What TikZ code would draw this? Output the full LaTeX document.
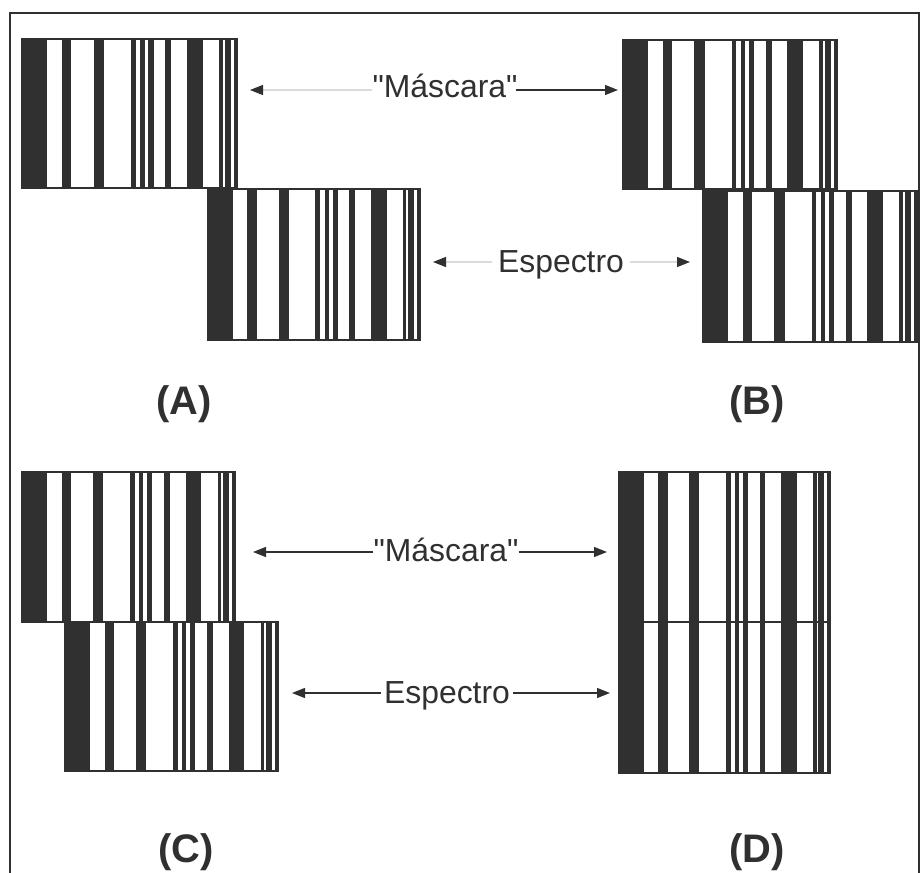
\documentclass[tikz,border=0pt]{standalone}
\usepackage{fontspec}
\newfontfamily\plainsans{Liberation Sans}
\usetikzlibrary{arrows.meta}
\definecolor{ink}{HTML}{303030}
\definecolor{faint}{HTML}{DADADA}
\tikzset{
  blockline/.style={draw=ink, line width=1.3bp},
  framel/.style={draw=ink, line width=2.2bp},
  lbl/.style={text=ink, font=\plainsans\fontsize{32}{36}\selectfont, inner sep=0pt, anchor=base},
  panel/.style={text=ink, font=\plainsans\bfseries\fontsize{40}{46}\selectfont, inner sep=0pt, anchor=base},
  arr/.style={draw=ink, line width=1.3bp, -{Triangle[length=13bp,width=10bp,color=ink]}},
  farr/.style={draw=faint, line width=1.3bp, -{Triangle[length=13bp,width=10bp,color=ink]}}
}
\newcommand{\bcblock}[4]{% x0 y0 x1 y1
  \foreach \a/\b in {0/0.118,0.186/0.230,0.334/0.381,0.507/0.530,0.550/0.570,0.588/0.612,0.666/0.694,0.768/0.842,0.918/0.936,0.945/0.973,0.988/1}{
    \fill[ink] ({#1+\a*(#3-#1)},#2) rectangle ({#1+\b*(#3-#1)},#4);}
  \draw[blockline] (#1,#2) rectangle (#3,#4);
}
\begin{document}
\begin{tikzpicture}[x=1bp,y=-1bp]
\useasboundingbox[fill=white] (0,0) rectangle (921,873);
% frame
\draw[framel] (10,873) -- (10,13) -- (919,13) -- (919,873);
% barcode blocks
\bcblock{22}{39}{237}{188}
\bcblock{208}{189}{420}{340}
\bcblock{623}{40}{837}{189}
\bcblock{703}{191}{917}{342}
\bcblock{22}{472}{235}{622}
\bcblock{65}{622}{278}{771}
\bcblock{619}{472}{830}{622}
\bcblock{619}{622}{830}{773}
% texts
\node[lbl] (m1) at (445,97) {"Máscara"};
\node[lbl] (e1) at (561,272) {Espectro};
\node[lbl] (m2) at (446,561) {"Máscara"};
\node[lbl] (e2) at (447,703) {Espectro};
\node[panel] (pA) at (184,414) {(A)};
\node[panel] (pB) at (757,414) {(B)};
\node[panel] (pC) at (186,862) {(C)};
\node[panel] (pD) at (757,862) {(D)};
% arrow end points
\coordinate (m1l) at (250,90);
\coordinate (m1r) at (618,90);
\coordinate (e1l) at (433,262);
\coordinate (e1r) at (690,262);
\coordinate (m2l) at (253,552);
\coordinate (m2r) at (607,552);
\coordinate (e2l) at (292,693);
\coordinate (e2r) at (610,693);
% arrows
\draw[farr] (m1.west |- m1l) -- (m1l);
\draw[arr] ([xshift=-2bp]m1.east |- m1r) -- (m1r);
\draw[farr] ([xshift=-6bp]e1.west |- e1l) -- (e1l);
\draw[farr] ([xshift=6bp]e1.east |- e1r) -- (e1r);
\draw[arr] (m2.west |- m2l) -- (m2l);
\draw[arr] (m2.east |- m2r) -- (m2r);
\draw[arr] ([xshift=-3bp]e2.west |- e2l) -- (e2l);
\draw[arr] ([xshift=3bp]e2.east |- e2r) -- (e2r);
\end{tikzpicture}
\end{document}
